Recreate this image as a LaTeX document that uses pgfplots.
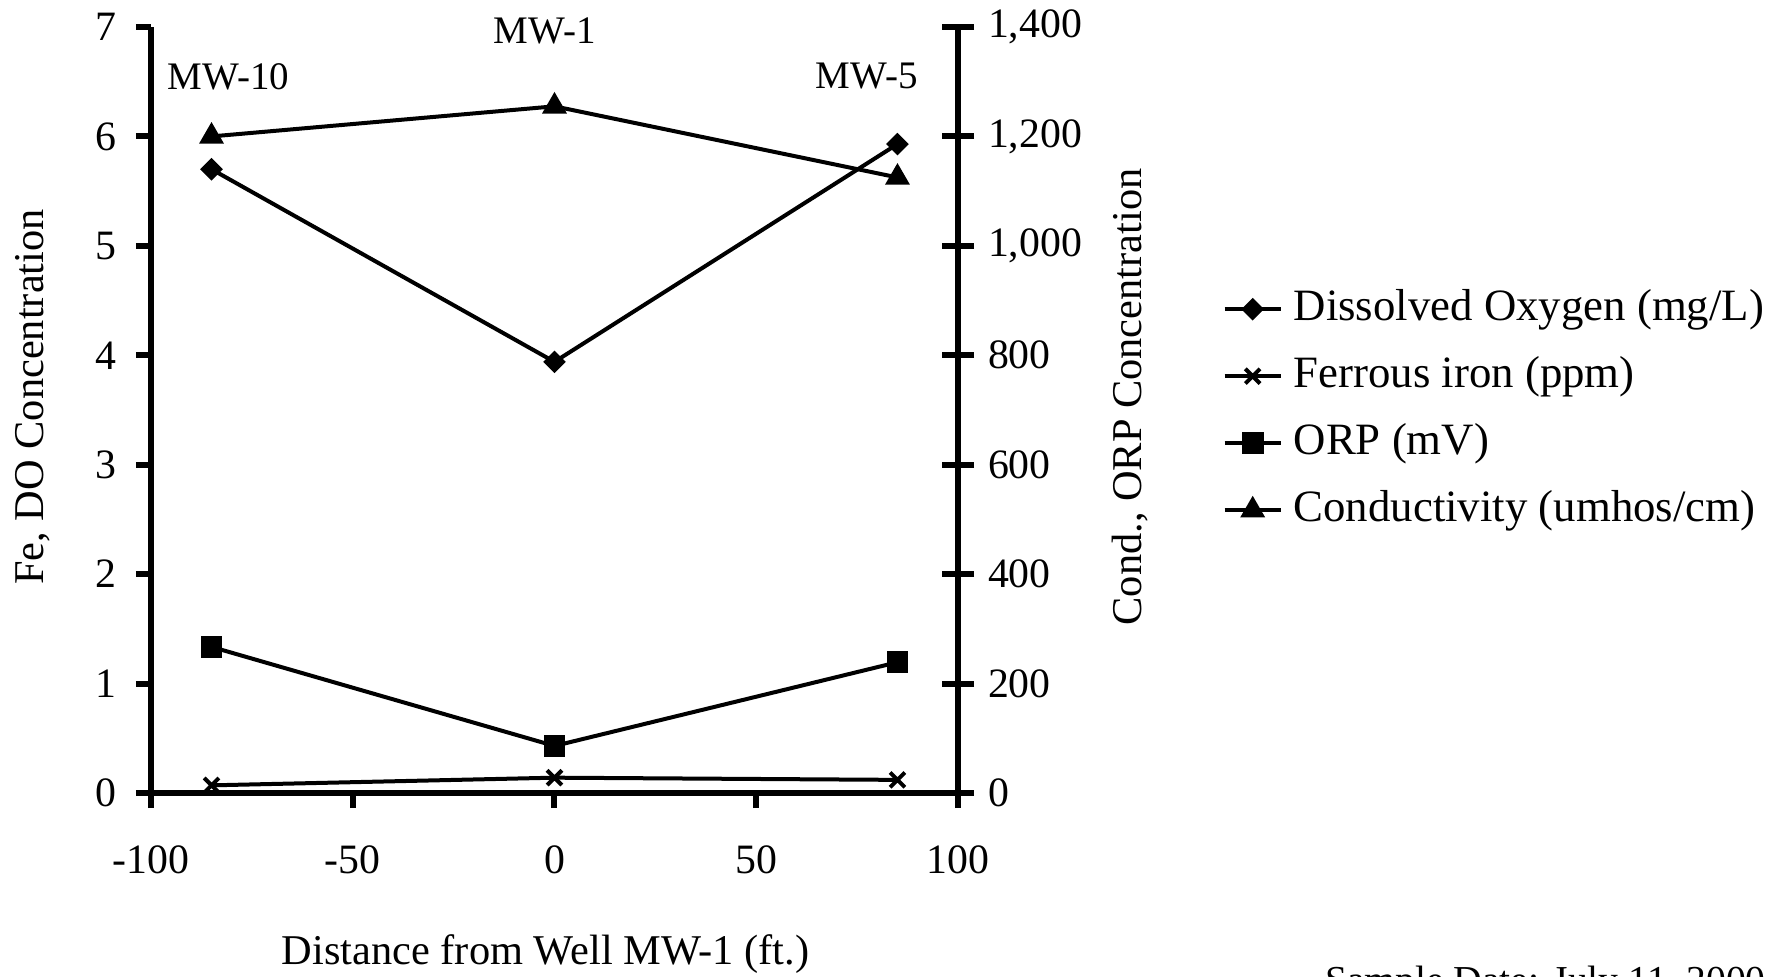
\documentclass[border=0pt]{standalone}
\usepackage{fontspec}
\setmainfont{Liberation Serif}
\usepackage{pgfplots}
\pgfplotsset{compat=1.18}

\begin{document}
\begin{tikzpicture}
\pgfplotsset{
  every axis/.append style={
    scale only axis, width=201.75bp, height=191.5bp,
    xmin=-100, xmax=100, clip=false,
    axis line style={line width=1.5bp},
    every tick/.style={line width=1.5bp, black},
    /pgf/number format/assume math mode=true,
    tick label style={font=\fontsize{10.45bp}{12bp}\selectfont},
    label style={font=\fontsize{10.6bp}{12bp}\selectfont},
  },
  series/.style={line width=1bp, black},
}

% left axis: Fe and DO
\begin{axis}[
  name=ax1, at={(0,0)}, anchor=south west,
  ymin=0, ymax=7, ytick={0,1,...,7},
  xtick={-100,-50,0,50,100}, xticklabels={-100,-50,0,50,100},
  axis x line*=bottom, axis y line*=left,
  tick align=outside, major tick length=3.75bp,
  xticklabel style={yshift=-6bp},
  yticklabel style={xshift=-1.5bp},
  xlabel={Distance from Well MW-1 (ft.)},
  xlabel style={at={(axis description cs:0.489,-0.2245)}, anchor=base},
  ylabel={Fe, DO Concentration},
  ylabel style={at={(axis description cs:-0.1462,0.517)}, anchor=center},
]
\addplot[series, mark=square*, mark size=1.5bp, mark options={solid, fill=black, rotate=45}]
  coordinates {(-85,5.70) (0,3.94) (85,5.93)};
\addplot[series, mark=x, mark size=2.6bp, mark options={solid}]
  coordinates {(-85,0.07) (0,0.14) (85,0.12)};

\node[anchor=base, font=\fontsize{9.75bp}{11bp}\selectfont] at (axis description cs:0.096,0.918) {MW-10};
\node[anchor=base, font=\fontsize{9.75bp}{11bp}\selectfont] at (axis description cs:0.488,0.979) {MW-1};
\node[anchor=base, font=\fontsize{9.75bp}{11bp}\selectfont] at (axis description cs:0.887,0.920) {MW-5};
\node[anchor=base west, font=\fontsize{9.9bp}{11bp}\selectfont] at (axis description cs:1.4374,-0.2611) {Sample Date: July 11, 2000};
\end{axis}

% right axis: ORP and conductivity
\begin{axis}[
  at={(0,0)}, anchor=south west,
  ymin=0, ymax=1400, ytick={0,200,...,1400},
  axis x line=none, axis y line*=right,
  tick align=center, major tick length=8bp,
  /pgf/number format/1000 sep={,},
  ylabel={Cond., ORP Concentration},
  ylabel style={at={(axis description cs:1.2131,0.517)}, anchor=center},
  legend image code/.code={\draw[mark repeat=2,mark phase=2] plot coordinates {(0bp,0bp) (7bp,0bp) (14bp,0bp)};},
  legend cell align=left,
  legend style={draw=none, fill=none, inner sep=0pt, outer sep=0pt,
    at={(axis description cs:1.328,0.659)}, anchor=north west,
    row sep=6.25bp, column sep=2.75bp,
    font=\fontsize{11.2bp}{13bp}\selectfont,
    nodes={inner sep=0pt, text height=8bp, text depth=2.5bp}},
]
\addlegendimage{series, mark=square*, mark size=1.5bp, mark options={solid, fill=black, rotate=45}}
\addlegendimage{series, mark=x, mark size=2.6bp, mark options={solid}}
\addplot[series, mark=square*, mark size=2.2bp, mark options={solid, fill=black}]
  coordinates {(-85,267) (0,86) (85,239)};
\addplot[series, mark=triangle*, mark size=2.6bp, mark options={solid, fill=black}]
  coordinates {(-85,1200) (0,1255) (85,1125)};
\legend{Dissolved Oxygen (mg/L), Ferrous iron (ppm), ORP (mV), Conductivity (umhos/cm)}
\end{axis}

\pgfresetboundingbox
\path[use as bounding box] (-37.75bp,-46bp) rectangle (406.25bp,198.25bp);
\end{tikzpicture}
\end{document}
